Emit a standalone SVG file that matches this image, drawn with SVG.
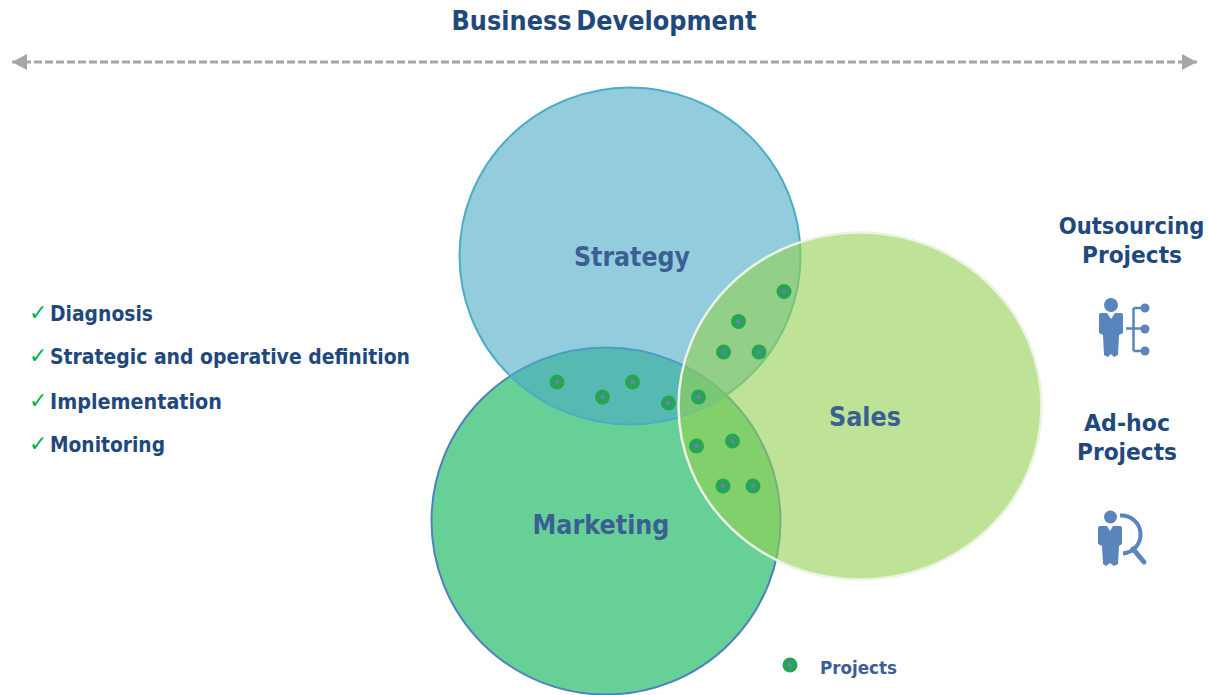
<svg xmlns="http://www.w3.org/2000/svg" width="1208" height="695" viewBox="0 0 1208 695">
<style>
text{font-family:"DejaVu Sans","Noto Sans","Liberation Sans",sans-serif;font-weight:700}
.t{fill:#1f497d}
.l{fill:#3a5f92;font-size:27px;text-anchor:middle}
.h{fill:#1f497d;font-size:23px;text-anchor:middle}
.b{fill:#1f497d;font-size:21px}
.c{fill:#00b050;font-family:"DejaVu Sans",sans-serif;font-weight:400;font-size:22px}
.ic{fill:#5a85bc}
.iw{fill:none;stroke:#5a85bc;stroke-width:2.5}
.d{fill:#26a652}
.e{fill:#6a7fc0}
</style>
<defs>
<marker id="ah" markerUnits="userSpaceOnUse" markerWidth="16" markerHeight="16" refX="15" refY="8" orient="auto-start-reverse"><path d="M0 0L15 8L0 16Z" fill="#a6a6a6"/></marker>
<g id="dot"><circle r="7.500" class="d"/><circle r="2.200" class="e"/></g>
<filter id="soft" x="-10%" y="-10%" width="120%" height="120%"><feGaussianBlur stdDeviation=".5"/></filter>
</defs>
<g id="connectors">
<line x1="12" y1="62" x2="1197" y2="62" stroke="#a6a6a6" stroke-width="3" stroke-dasharray="8 3" marker-start="url(#ah)" marker-end="url(#ah)"/>
</g>
<text class="t" x="604" y="30" font-size="26" text-anchor="middle" word-spacing="-4" textLength="305" lengthAdjust="spacingAndGlyphs">Business Development</text>
<g id="marketing"><ellipse cx="606" cy="521" rx="174.500" ry="173.500" fill="#00b050" fill-opacity=".6" stroke="#4f81bd" stroke-width="2"/></g>
<g id="strategy"><ellipse cx="630" cy="256" rx="170.500" ry="168.500" fill="#4bacc6" fill-opacity=".6" stroke="#4bacc6" stroke-width="2"/></g>
<g id="sales"><ellipse cx="860" cy="406" rx="181.500" ry="173.500" fill="#92d050" fill-opacity=".6" stroke="#ecf3e2" stroke-width="2.500"/></g>
<text class="l" x="632" y="266" textLength="116" lengthAdjust="spacingAndGlyphs">Strategy</text>
<text class="l" x="601" y="534" textLength="137" lengthAdjust="spacingAndGlyphs">Marketing</text>
<text class="l" x="865" y="426" textLength="72" lengthAdjust="spacingAndGlyphs">Sales</text>
<g id="projects">
<use href="#dot" x="784" y="291.500"/><use href="#dot" x="738.500" y="321.500"/><use href="#dot" x="723.500" y="352"/><use href="#dot" x="759" y="352"/>
<use href="#dot" x="557" y="382"/><use href="#dot" x="602.500" y="397"/><use href="#dot" x="632.500" y="382"/><use href="#dot" x="668.500" y="403"/><use href="#dot" x="698.500" y="397"/>
<use href="#dot" x="696.500" y="446"/><use href="#dot" x="732.500" y="441"/><use href="#dot" x="723" y="486"/><use href="#dot" x="753" y="486"/>
</g>
<g id="checklist">
<text class="c" x="29" y="320">✓</text><text class="b" x="50" y="320.500" textLength="103" lengthAdjust="spacingAndGlyphs">Diagnosis</text>
<text class="c" x="29" y="363">✓</text><text class="b" x="50" y="363.500" textLength="360" lengthAdjust="spacingAndGlyphs">Strategic and operative definition</text>
<text class="c" x="29" y="408">✓</text><text class="b" x="50" y="408.500" textLength="172" lengthAdjust="spacingAndGlyphs">Implementation</text>
<text class="c" x="29" y="451">✓</text><text class="b" x="50" y="451.500" textLength="115" lengthAdjust="spacingAndGlyphs">Monitoring</text>
</g>
<g id="outsourcing">
<text class="h" transform="translate(1131.500 234) scale(.92 1)" x="0" y="0">Outsourcing</text>
<text class="h" x="1132" y="263" textLength="100" lengthAdjust="spacingAndGlyphs">Projects</text>
<g filter="url(#soft)">
<circle class="ic" cx="1111" cy="305" r="7"/>
<path class="ic" d="M1099 315Q1099 313 1101 313L1107 313L1111 319L1115 313L1121 313Q1123 313 1123 315L1123 333L1119 335L1118 355L1114 357L1111 354L1108 357L1104 355L1103 335L1099 333Z"/>
<path class="iw" d="M1126 328.500H1145M1133.500 308H1145M1133.500 351H1145M1133.500 308V351"/>
<circle class="ic" cx="1145" cy="308" r="4.500"/><circle class="ic" cx="1145" cy="329" r="4.500"/><circle class="ic" cx="1145" cy="351" r="4.500"/>
</g>
</g>
<g id="adhoc">
<text class="h" x="1127" y="431" textLength="86" lengthAdjust="spacingAndGlyphs">Ad-hoc</text>
<text class="h" x="1127" y="460" textLength="100" lengthAdjust="spacingAndGlyphs">Projects</text>
<g filter="url(#soft)">
<circle class="ic" cx="1110.500" cy="517" r="6.500"/>
<path class="ic" d="M1098 528Q1098 526 1100 526L1107 526L1110 531L1113 526L1120 526Q1122 526 1122 528L1122 544L1119 546L1118 564L1114 566L1110 563L1106 566L1103 564L1102 546L1098 544Z"/>
<path d="M1120 515.500A19 19 0 0 1 1123 553.500" fill="none" stroke="#5a85bc" stroke-width="4"/>
<path d="M1133 549L1144 562" fill="none" stroke="#5a85bc" stroke-width="5" stroke-linecap="round"/>
</g>
</g>
<g id="legend">
<use href="#dot" x="790" y="665"/>
<text x="820" y="673.500" font-size="18" fill="#3a5f92" textLength="77" lengthAdjust="spacingAndGlyphs">Projects</text>
</g>
</svg>
